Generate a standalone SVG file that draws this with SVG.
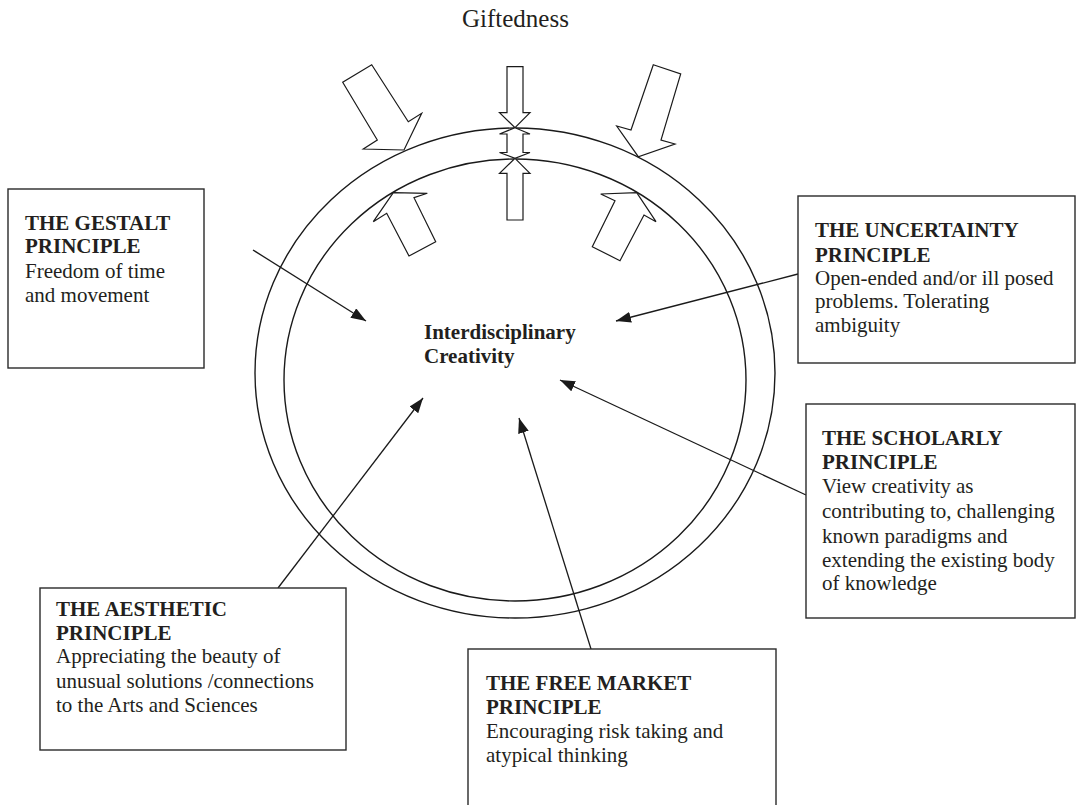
<svg xmlns="http://www.w3.org/2000/svg" width="1076" height="805" viewBox="0 0 1076 805">
<defs>
<marker id="ah" markerUnits="userSpaceOnUse" markerWidth="16" markerHeight="11" refX="15" refY="5.5" orient="auto">
<path d="M0,0 L15,5.5 L0,11 z" fill="#1a1a1a"/>
</marker>
</defs>
<style>
.bg{fill:#fff}
.box{fill:#fff;stroke:#2a2a2a;stroke-width:1.4}
.ring{fill:none;stroke:#1a1a1a;stroke-width:1.4}
.blk{fill:#fff;stroke:#1a1a1a;stroke-width:1.2;stroke-linejoin:miter}
.con{fill:none;stroke:#1a1a1a;stroke-width:1.3}
text{font-family:"Liberation Serif","Times New Roman",serif;font-size:21px;fill:#231f20}
.b{font-weight:bold}
</style>
<rect class="bg" x="0" y="0" width="1076" height="805"/>
<text id="title" x="462" y="27" style="font-size:25px">Giftedness</text>
<g id="rings">
<ellipse class="ring" cx="515" cy="373" rx="260" ry="245"/>
<ellipse class="ring" cx="515" cy="380" rx="231" ry="221"/>
</g>
<g id="block-arrows">
<polygon class="blk" points="507,66.7 523,66.7 523,112.7 530,112.7 515,127.7 499.5,112.7 507,112.7"/>
<polygon class="blk" points="515,127.7 530,134 523,134 523,152.5 530,152.5 515,158.3 499.5,152.5 507,152.5 507,134 499.5,134"/>
<polygon class="blk" points="515,158.3 530,173.3 523,173.3 523,220 507,220 507,173.3 499.5,173.3"/>
<polygon class="blk" points="371.7,64.7 408.3,121.7 421.7,113.3 404,150 363.3,149 377.3,140 342.7,82.3"/>
<polygon class="blk" points="653.3,64.7 680.7,74 661,140 675,144 638.3,156.7 616.7,126 631,130"/>
<polygon class="blk" points="393.3,192.7 427.3,193.3 414,197.7 435.7,241.7 409,256 386.7,213.3 373.3,221.7"/>
<polygon class="blk" points="600.7,194 636.7,192.7 656,221.7 644,215 620,260.7 592.3,246.7 615,200.7"/>
</g>
<g id="center">
<text class="b" x="424" y="339">Interdisciplinary</text>
<text class="b" x="424" y="363">Creativity</text>
</g>
<g id="connectors">
<line class="con" x1="253" y1="250" x2="366" y2="321" marker-end="url(#ah)"/>
<line class="con" x1="798" y1="274" x2="616" y2="321" marker-end="url(#ah)"/>
<line class="con" x1="806" y1="495" x2="560" y2="380" marker-end="url(#ah)"/>
<line class="con" x1="278" y1="588" x2="423" y2="398" marker-end="url(#ah)"/>
<line class="con" x1="591" y1="649" x2="519" y2="418" marker-end="url(#ah)"/>
</g>
<g id="gestalt">
<rect class="box" x="8" y="189" width="196" height="179"/>
<text class="b" x="25" y="230">THE GESTALT</text>
<text class="b" x="25" y="253">PRINCIPLE</text>
<text x="25" y="278">Freedom of time</text>
<text x="25" y="302">and movement</text>
</g>
<g id="uncertainty">
<rect class="box" x="798" y="196" width="277" height="167"/>
<text class="b" x="815" y="237">THE UNCERTAINTY</text>
<text class="b" x="815" y="262">PRINCIPLE</text>
<text x="815" y="285">Open-ended and/or ill posed</text>
<text x="815" y="308">problems. Tolerating</text>
<text x="815" y="332">ambiguity</text>
</g>
<g id="scholarly">
<rect class="box" x="806" y="404" width="269" height="214"/>
<text class="b" x="822" y="445">THE SCHOLARLY</text>
<text class="b" x="822" y="469">PRINCIPLE</text>
<text x="822" y="493">View creativity as</text>
<text x="822" y="518">contributing to, challenging</text>
<text x="822" y="543">known paradigms and</text>
<text x="822" y="567">extending the existing body</text>
<text x="822" y="590">of knowledge</text>
</g>
<g id="aesthetic">
<rect class="box" x="40" y="588" width="306" height="162"/>
<text class="b" x="56" y="616">THE AESTHETIC</text>
<text class="b" x="56" y="640">PRINCIPLE</text>
<text x="56" y="663">Appreciating the beauty of</text>
<text x="56" y="688">unusual solutions /connections</text>
<text x="56" y="712">to the Arts and Sciences</text>
</g>
<g id="freemarket">
<rect class="box" x="468" y="649" width="308" height="170"/>
<text class="b" x="486" y="690">THE FREE MARKET</text>
<text class="b" x="486" y="714">PRINCIPLE</text>
<text x="486" y="738">Encouraging risk taking and</text>
<text x="486" y="762">atypical thinking</text>
</g>
</svg>
